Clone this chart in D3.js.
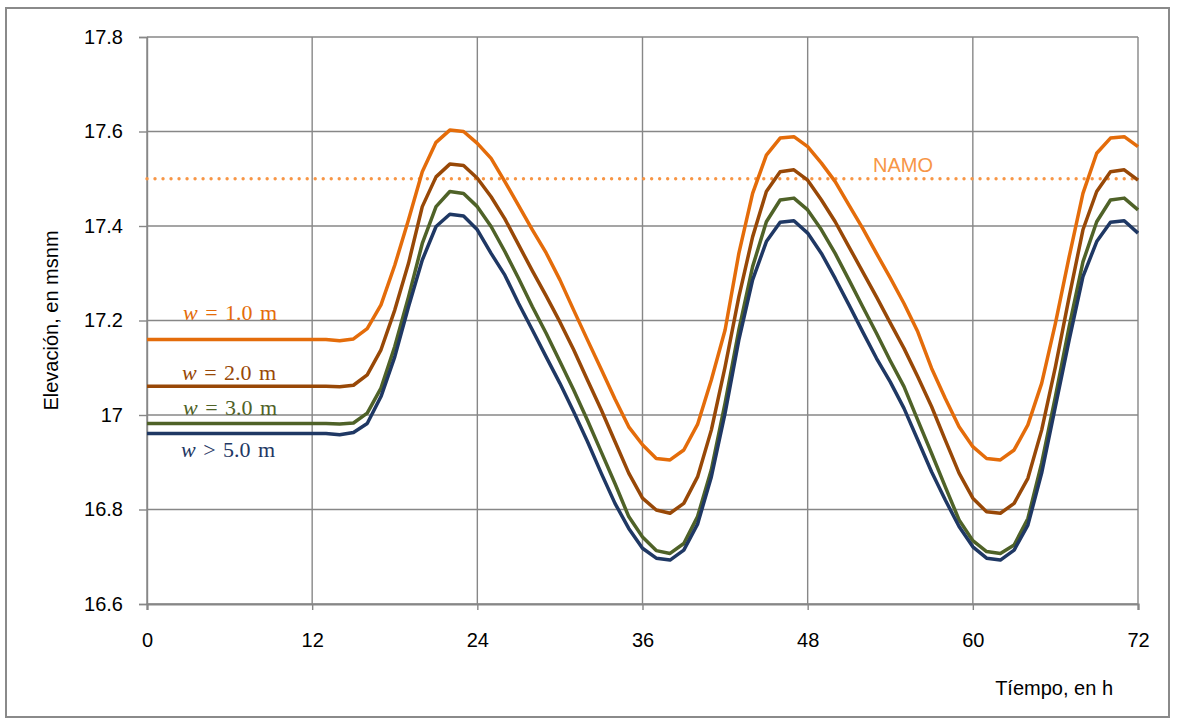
<!DOCTYPE html>
<html>
<head>
<meta charset="utf-8">
<script src="https://cdn.jsdelivr.net/npm/d3@7/dist/d3.min.js"></script>
<style>
  body { margin: 0; background: #fff; }
  svg { display: block; }
</style>
</head>
<body>
<svg id="chart" width="1177" height="725"></svg>
<script>
// ---- data ----
const hours = [0,1,2,3,4,5,6,7,8,9,10,11,12,13,14,15,16,17,18,19,20,21,22,23,24,25,26,27,28,29,30,31,32,33,34,35,36,37,38,39,40,41,42,43,44,45,46,47,48,49,50,51,52,53,54,55,56,57,58,59,60,61,62,63,64,65,66,67,68,69,70,71,72];

const w1 = [17.16,17.16,17.16,17.16,17.16,17.16,17.16,17.16,17.16,17.16,17.16,17.16,17.16,17.16,
  17.157,17.161,17.183,17.233,17.317,17.413,17.515,17.577,17.603,17.600,17.575,17.543,17.494,17.443,
  17.392,17.343,17.286,17.222,17.159,17.097,17.034,16.975,16.937,16.908,16.905,16.926,16.980,17.074,
  17.180,17.342,17.469,17.550,17.586,17.589,17.568,17.533,17.494,17.444,17.395,17.342,17.290,17.236,
  17.176,17.099,17.035,16.975,16.933,16.908,16.905,16.926,16.979,17.067,17.194,17.335,17.469,17.554,
  17.586,17.589,17.568];

const w2 = [17.061,17.061,17.061,17.061,17.061,17.061,17.061,17.061,17.061,17.061,17.061,17.061,17.061,17.061,
  17.060,17.063,17.085,17.138,17.222,17.321,17.441,17.504,17.531,17.528,17.501,17.462,17.415,17.360,
  17.305,17.252,17.197,17.138,17.074,17.011,16.944,16.877,16.824,16.799,16.792,16.813,16.869,16.968,
  17.102,17.250,17.377,17.473,17.515,17.519,17.497,17.455,17.409,17.356,17.303,17.250,17.195,17.141,
  17.081,17.018,16.947,16.877,16.824,16.795,16.792,16.813,16.866,16.968,17.102,17.250,17.392,17.473,
  17.515,17.519,17.497];

const w3 = [16.982,16.982,16.982,16.982,16.982,16.982,16.982,16.982,16.982,16.982,16.982,16.982,16.982,16.982,
  16.981,16.983,17.004,17.057,17.145,17.250,17.363,17.441,17.473,17.469,17.441,17.399,17.346,17.289,
  17.229,17.173,17.113,17.053,16.989,16.922,16.855,16.785,16.742,16.713,16.707,16.728,16.785,16.884,
  17.025,17.180,17.314,17.409,17.455,17.459,17.434,17.392,17.342,17.286,17.229,17.173,17.115,17.060,
  16.989,16.919,16.848,16.778,16.734,16.711,16.707,16.725,16.781,16.898,17.039,17.187,17.324,17.409,
  17.455,17.459,17.434];

const w5 = [16.961,16.961,16.961,16.961,16.961,16.961,16.961,16.961,16.961,16.961,16.961,16.961,16.961,16.961,
  16.958,16.963,16.982,17.039,17.123,17.229,17.328,17.399,17.425,17.421,17.392,17.342,17.296,17.236,
  17.180,17.123,17.067,17.007,16.944,16.877,16.813,16.760,16.718,16.697,16.693,16.714,16.769,16.869,
  17.004,17.159,17.286,17.367,17.408,17.411,17.385,17.342,17.289,17.233,17.176,17.120,17.070,17.014,
  16.947,16.880,16.820,16.764,16.721,16.697,16.693,16.714,16.767,16.877,17.018,17.159,17.293,17.367,
  17.408,17.411,17.385];

const seriesNames = ["w = 1.0 m", "w = 2.0 m", "w = 3.0 m", "w > 5.0 m"];
const seriesRel = ["= 1.0 m", "= 2.0 m", "= 3.0 m", "> 5.0 m"];
const namoLevel = 17.5;
const namoLabel = "NAMO";

const xTicks = [0, 12, 24, 36, 48, 60, 72];
const yTicks = [16.6, 16.8, 17.0, 17.2, 17.4, 17.6, 17.8];
const yTickLabels = ["16.6", "16.8", "17", "17.2", "17.4", "17.6", "17.8"];
const xTitle = "Tíempo, en h";
const yTitle = "Elevación, en msnm";

// ---- styling / layout ----
const colors = ["#E46C0A", "#984807", "#4F6228", "#1F3864"];
const labelPos = [[183, 320], [182, 380], [183, 415], [181, 457]];
const gridColor = "#878787";
const sansFont = "'Liberation Sans', Arial, sans-serif";
const serifFont = "'Liberation Serif', 'Times New Roman', serif";

const svg = d3.select("#chart");
const pLeft = 147, pRight = 1138, pTop = 37, pBottom = 604;

const x = d3.scaleLinear().domain([0, 72]).range([pLeft, pRight]);
const y = d3.scaleLinear().domain([16.6, 17.8]).range([pBottom, pTop]);

// outer frame
svg.append("rect")
  .attr("x", 6).attr("y", 8).attr("width", 1163).attr("height", 709)
  .attr("fill", "#fff").attr("stroke", "#8a8a8a").attr("stroke-width", 2);

// grid
svg.append("g").selectAll("line").data(yTicks).join("line")
  .attr("x1", pLeft).attr("x2", pRight)
  .attr("y1", d => y(d)).attr("y2", d => y(d))
  .attr("stroke", gridColor).attr("stroke-width", 1.4);
svg.append("g").selectAll("line").data(xTicks).join("line")
  .attr("x1", d => x(d)).attr("x2", d => x(d))
  .attr("y1", pTop).attr("y2", pBottom)
  .attr("stroke", gridColor).attr("stroke-width", 1.4);

// axes
const yAxis = d3.axisLeft(y).tickValues(yTicks).tickSize(8).tickPadding(16)
  .tickFormat((d, i) => yTickLabels[i]);
const gy = svg.append("g").attr("transform", `translate(${pLeft},0)`).call(yAxis);
gy.select(".domain").attr("stroke", gridColor).attr("stroke-width", 1.4);
gy.selectAll(".tick line").attr("stroke", gridColor).attr("stroke-width", 1.4);
gy.selectAll(".tick text").attr("font-family", sansFont).attr("font-size", 20).attr("fill", "#000");

const xAxis = d3.axisBottom(x).tickValues(xTicks).tickSize(6).tickPadding(23)
  .tickFormat(d3.format("d"));
const gx = svg.append("g").attr("transform", `translate(0,${pBottom})`).call(xAxis);
gx.select(".domain").attr("stroke", gridColor).attr("stroke-width", 2.2);
gx.selectAll(".tick line").attr("stroke", gridColor).attr("stroke-width", 1.4);
gx.selectAll(".tick text").attr("font-family", sansFont).attr("font-size", 20).attr("fill", "#000");

// NAMO dotted line
svg.append("line")
  .attr("x1", x(0)).attr("x2", x(72))
  .attr("y1", y(namoLevel)).attr("y2", y(namoLevel))
  .attr("stroke", "#F79646").attr("stroke-width", 3.4)
  .attr("stroke-linecap", "round").attr("stroke-dasharray", "0.01 8");
svg.append("text")
  .attr("x", 873).attr("y", 172)
  .attr("font-family", sansFont).attr("font-size", 20).attr("fill", "#F79646")
  .text(namoLabel);

// series lines
const allSeries = [w1, w2, w3, w5];
const line = d3.line().x((d, i) => x(hours[i])).y(d => y(d));
svg.append("g").selectAll("path").data(allSeries).join("path")
  .attr("d", d => line(d))
  .attr("fill", "none")
  .attr("stroke", (d, i) => colors[i])
  .attr("stroke-width", 3.5)
  .attr("stroke-linejoin", "round");

// series labels
allSeries.forEach((s, i) => {
  const t = svg.append("text")
    .attr("x", labelPos[i][0]).attr("y", labelPos[i][1])
    .attr("font-family", serifFont).attr("font-size", 22)
    .attr("fill", colors[i]).attr("word-spacing", 2);
  t.append("tspan").attr("font-style", "italic").text("w");
  t.append("tspan").text(" " + seriesRel[i]);
});

// axis titles
svg.append("text")
  .attr("transform", `translate(58,${(pTop + pBottom) / 2}) rotate(-90)`)
  .attr("text-anchor", "middle")
  .attr("font-family", sansFont).attr("font-size", 20).attr("fill", "#000")
  .text(yTitle);
svg.append("text")
  .attr("x", 1113).attr("y", 695).attr("text-anchor", "end")
  .attr("font-family", sansFont).attr("font-size", 20).attr("fill", "#000")
  .text(xTitle);
</script>
</body>
</html>
